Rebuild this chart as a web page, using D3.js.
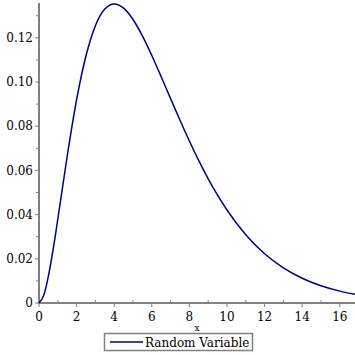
<!DOCTYPE html>
<html><head><meta charset="utf-8">
<script src="https://cdn.jsdelivr.net/npm/d3@7/dist/d3.min.js"></script>
<style>body{margin:0;background:#fff}svg{display:block}text{font-family:"DejaVu Serif",serif;fill:#000}</style>
</head><body>
<svg id="c" width="355" height="355"></svg>
<script>
const xs = [0,0.25,0.5,0.75,1,1.5,2,2.5,3,3.5,4,4.5,5,5.5,6,6.5,7,7.5,8,8.5,9,9.5,10,11,12,13,14,15,16,16.81];
const ys = [0,0.00345,0.01217,0.02416,0.0379,0.0664,0.0920,0.1119,0.1255,0.1330,0.1353,0.1334,0.1283,0.1209,0.1120,0.1024,0.0925,0.0827,0.0733,0.0644,0.0562,0.0488,0.0421,0.0309,0.0223,0.0159,0.0112,0.00778,0.00537,0.00395];
const xTicks = [0,2,4,6,8,10,12,14,16];
const xMinor = [1,3,5,7,9,11,13,15];
const yTicks = [0,0.02,0.04,0.06,0.08,0.10,0.12];
const yMinor = [0.01,0.03,0.05,0.07,0.09,0.11,0.13];
const yTickLabels = ["0","0.02","0.04","0.06","0.08","0.10","0.12"];
const seriesName = "Random Variable";
const xLabel = "x";

const svg = d3.select("#c");
const x = d3.scaleLinear().domain([0,16.81]).range([39,355]);
const y = d3.scaleLinear().domain([0,0.1353]).range([303,4]);
const axisCol = "#808080";
const lineCol = "#000080";

// y axis
const ya = svg.append("g");
ya.append("line").attr("x1",39).attr("x2",39).attr("y1",y(0)+1).attr("y2",3).attr("stroke",axisCol).attr("stroke-width",2);
ya.selectAll(".mj").data(yTicks).join("line").attr("x1",35).attr("x2",39).attr("y1",d=>y(d)).attr("y2",d=>y(d)).attr("stroke",axisCol).attr("stroke-width",1);
ya.selectAll(".mn").data(yMinor).join("line").attr("class","mn").attr("x1",36).attr("x2",39).attr("y1",d=>y(d)).attr("y2",d=>y(d)).attr("stroke",axisCol).attr("stroke-width",1);
ya.selectAll("text").data(yTicks).join("text").attr("x",33).attr("y",d=>y(d)).attr("dy","0.35em").attr("text-anchor","end").attr("font-size",12).text((d,i)=>yTickLabels[i]);

// x axis
const xa = svg.append("g");
xa.append("line").attr("x1",38).attr("x2",355).attr("y1",303).attr("y2",303).attr("stroke",axisCol).attr("stroke-width",2);
xa.selectAll(".mj").data(xTicks).join("line").attr("class","mj").attr("x1",d=>x(d)).attr("x2",d=>x(d)).attr("y1",303).attr("y2",307).attr("stroke",axisCol).attr("stroke-width",1);
xa.selectAll(".mn").data(xMinor).join("line").attr("class","mn").attr("x1",d=>x(d)).attr("x2",d=>x(d)).attr("y1",300).attr("y2",303).attr("stroke",axisCol).attr("stroke-width",1);
xa.selectAll("text").data(xTicks).join("text").attr("x",d=>x(d)).attr("y",321).attr("text-anchor","middle").attr("font-size",12).text(d=>d);
svg.append("text").attr("x",197).attr("y",331).attr("text-anchor","middle").attr("font-size",9).text(xLabel);

// curve
const pts = xs.map((d,i)=>[d,ys[i]]);
svg.append("path").datum(pts).attr("fill","none").attr("stroke",lineCol).attr("stroke-width",1.5)
  .attr("d", d3.line().x(d=>x(d[0])).y(d=>y(d[1])).curve(d3.curveMonotoneX));

// legend
const lg = svg.append("g");
lg.append("rect").attr("x",104.5).attr("y",333.5).attr("width",148).attr("height",17).attr("fill","#fff").attr("stroke",axisCol).attr("stroke-width",1.5);
lg.append("line").attr("x1",110).attr("x2",143).attr("y1",342).attr("y2",342).attr("stroke",lineCol).attr("stroke-width",1.5);
lg.append("text").attr("x",145).attr("y",346.5).attr("font-size",12).text(seriesName);
</script>
</body></html>
